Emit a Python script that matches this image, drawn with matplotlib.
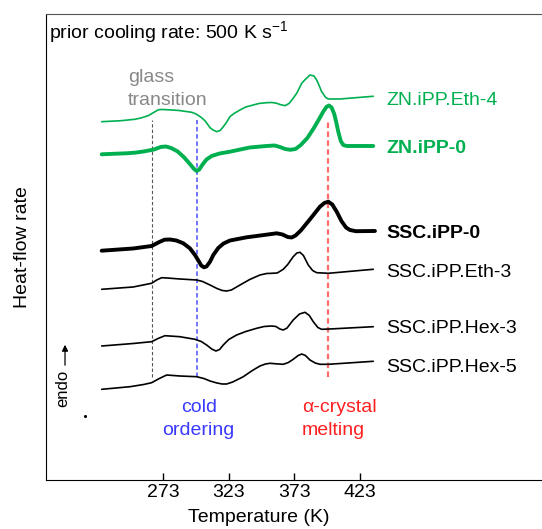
import numpy as np
from matplotlib import pyplot as plt

plt.rcParams['font.family'] = ['Liberation Sans', 'DejaVu Sans']
plt.rcParams['mathtext.fontset'] = 'custom'
plt.rcParams['mathtext.rm'] = 'Liberation Sans'

# heat-flow curves, temperature (K) vs heat-flow rate (arbitrary, shifted)
t_zn_eth4 = [226.0, 240.0, 251.4, 256.0, 261.5, 265.0, 269.2, 272.0, 279.4, 285.0, 294.7, 298.0,
             302.3, 305.0, 308.7, 311.0, 313.8, 316.5, 318.8, 321.0, 323.9, 327.0, 331.6, 336.0,
             341.7, 346.0, 351.9, 356.0, 359.6, 362.0, 365.9, 369.0, 372.2, 375.0, 378.7, 381.0,
             385.0, 388.0, 390.1, 391.5, 393.9, 397.0, 399.0, 401.0, 407.9, 433.3]
hf_zn_eth4 = [358.3, 359.2, 360.7, 362.0, 364.3, 367.0, 370.2, 370.5, 370.0, 369.5, 367.7, 366.0,
              362.3, 359.0, 352.3, 350.0, 348.3, 349.5, 353.3, 357.0, 363.3, 366.5, 370.0, 373.0,
              375.0, 376.5, 377.3, 377.5, 376.7, 375.5, 374.3, 376.5, 381.7, 387.0, 396.7, 400.0,
              405.0, 404.0, 400.0, 396.0, 388.3, 382.5, 381.0, 381.0, 381.0, 383.7]

t_zn_0 = [226.0, 245.0, 251.4, 258.0, 264.1, 266.0, 271.0, 275.0, 279.0, 284.0, 289.0, 293.0,
          296.5, 298.5, 300.5, 303.0, 306.0, 310.0, 316.0, 324.0, 339.0, 352.0, 358.0, 362.0,
          366.0, 370.0, 374.0, 378.0, 383.0, 388.0, 392.0, 395.0, 397.5, 399.5, 401.5, 403.5,
          405.0, 406.6, 408.5, 410.4, 413.0, 433.3]
hf_zn_0 = [325.7, 326.7, 327.3, 328.5, 330.0, 330.5, 333.0, 333.5, 332.0, 328.5, 322.5, 316.5,
           311.0, 309.0, 310.5, 315.5, 320.5, 324.0, 326.5, 328.3, 332.5, 334.0, 334.5, 333.0,
           331.0, 330.2, 331.0, 335.0, 342.0, 352.0, 361.0, 368.0, 373.0, 374.5, 372.5, 366.0,
           358.0, 348.3, 339.0, 335.0, 334.0, 334.0]

t_ssc_0 = [226.0, 250.0, 264.1, 270.0, 274.0, 278.0, 283.0, 288.3, 293.3, 297.2, 300.0, 302.0,
           304.0, 306.0, 308.7, 311.2, 315.0, 319.0, 324.0, 336.7, 350.0, 359.6, 364.0, 368.0,
           371.0, 374.0, 378.0, 382.5, 387.0, 392.6, 396.0, 399.0, 402.0, 405.4, 409.0, 412.5,
           415.5, 420.0, 434.6]
hf_ssc_0 = [229.3, 231.5, 234.0, 238.0, 240.3, 240.5, 239.5, 236.7, 231.7, 225.0, 219.0, 214.5,
            212.7, 213.5, 218.3, 225.0, 232.0, 236.5, 239.5, 242.7, 245.0, 246.7, 245.5, 243.0,
            242.5, 244.5, 249.5, 256.7, 264.0, 273.3, 277.0, 278.3, 275.5, 268.3, 259.0, 252.5,
            250.0, 248.8, 249.0]

t_ssc_eth3 = [226.0, 250.0, 264.1, 268.0, 271.8, 276.0, 285.7, 298.5, 303.0, 308.7, 314.0, 318.0,
              321.4, 325.0, 331.6, 339.0, 346.8, 352.0, 356.0, 360.0, 364.6, 368.0, 372.2, 375.0,
              377.4, 380.0, 383.7, 387.0, 390.1, 399.0, 433.3]
hf_ssc_eth3 = [190.7, 193.0, 196.7, 200.0, 202.3, 202.0, 201.0, 200.0, 198.5, 195.0, 191.5, 189.5,
               189.0, 190.0, 195.0, 200.5, 205.0, 206.5, 206.7, 207.0, 210.7, 215.5, 223.3, 227.0,
               227.7, 224.5, 215.0, 209.5, 207.3, 206.7, 210.7]

t_ssc_hex3 = [226.0, 250.0, 264.1, 269.0, 274.3, 285.7, 297.2, 302.0, 306.1, 310.0, 313.2, 316.0,
              318.8, 323.0, 329.0, 336.0, 344.3, 350.0, 355.8, 359.0, 362.0, 364.6, 367.5, 372.2,
              377.0, 381.2, 384.5, 387.5, 391.0, 393.9, 400.0, 433.3]
hf_ssc_hex3 = [134.0, 136.5, 138.3, 141.5, 144.3, 143.3, 140.7, 138.5, 135.0, 131.0, 129.0, 130.5,
               135.0, 140.5, 145.0, 148.5, 151.7, 153.5, 154.0, 153.5, 151.0, 150.0, 152.0, 160.0,
               166.0, 167.7, 164.5, 158.3, 152.5, 150.7, 151.0, 153.3]

t_ssc_hex5 = [226.0, 247.6, 258.0, 264.1, 270.0, 275.6, 285.7, 298.5, 304.0, 308.7, 314.0, 318.0,
              321.4, 326.0, 334.1, 341.0, 346.8, 351.0, 354.5, 359.0, 364.6, 368.5, 372.2, 376.0,
              378.7, 381.5, 385.0, 389.0, 392.6, 399.0, 433.3]
hf_ssc_hex5 = [90.7, 93.3, 95.5, 97.3, 101.5, 105.0, 104.0, 103.3, 101.5, 99.0, 97.0, 96.0,
               96.0, 98.0, 103.3, 109.5, 114.0, 116.0, 116.7, 116.2, 115.7, 117.5, 120.7, 124.5,
               126.0, 124.5, 120.0, 117.0, 115.7, 115.7, 118.7]

labels = ['ZN.iPP.Eth-4', 'ZN.iPP-0', 'SSC.iPP-0', 'SSC.iPP.Eth-3', 'SSC.iPP.Hex-3', 'SSC.iPP.Hex-5']
label_y = [374.5, 326.5, 242.0, 203.0, 146.5, 108.0]

# transition temperatures (K)
t_glass = 264.6
t_cold = 298.7
t_melt = 399.0

green = '#00b050'
curves = [
    (t_zn_eth4, hf_zn_eth4, green, 1.2, 'normal'),
    (t_zn_0, hf_zn_0, green, 2.8, 'bold'),
    (t_ssc_0, hf_ssc_0, 'black', 2.8, 'bold'),
    (t_ssc_eth3, hf_ssc_eth3, 'black', 1.2, 'normal'),
    (t_ssc_hex3, hf_ssc_hex3, 'black', 1.2, 'normal'),
    (t_ssc_hex5, hf_ssc_hex5, 'black', 1.2, 'normal'),
]

fig = plt.figure(figsize=(5.42, 5.29), dpi=100)
ax = fig.add_axes([0.0849, 0.0926, 0.917, 0.881])

# guide lines for the transitions
ax.plot([t_glass, t_glass], [103, 360], color='#555555', lw=0.8, dashes=(3, 2))
ax.plot([t_cold, t_cold], [103, 360], color='#6a6aff', lw=1.3, dashes=(2.5, 1.5))
ax.plot([t_melt, t_melt], [103, 360], color='#ff6b6b', lw=1.6, dashes=(2.5, 1.5))

for (t, hf, c, lw, fw), lab, ly in zip(curves, labels, label_y):
    ax.plot(t, hf, color=c, lw=lw, solid_joinstyle='round', solid_capstyle='round')
    ax.text(443.5, ly, lab, color=c, fontsize=14, fontweight=fw, va='baseline')

ax.text(246.1, 398.3, 'glass', color='#888888', fontsize=14, va='baseline')
ax.text(246.1, 375.0, 'transition', color='#888888', fontsize=14, va='baseline')
ax.text(300.0, 68.3, 'cold', color='#3a3aff', fontsize=14, ha='center', va='baseline')
ax.text(300.0, 45.0, 'ordering', color='#3a3aff', fontsize=14, ha='center', va='baseline')
ax.text(378.7, 68.3, '\u03b1-crystal', color='#ff2020', fontsize=14, va='baseline')
ax.text(378.7, 45.0, 'melting', color='#ff2020', fontsize=14, va='baseline')

ax.text(0.006, 0.9457, r'prior cooling rate: 500 K s$^{-1}$', transform=ax.transAxes,
        fontsize=14, va='baseline')

# endo arrow
ax.annotate('', xy=(198.0, 138), xytext=(198.0, 112),
            arrowprops=dict(arrowstyle='-|>', color='black', lw=0.9, mutation_scale=9))
ax.text(196.0, 92, 'endo', rotation=90, fontsize=12, ha='center', va='center')
ax.plot([213.2], [64], marker='o', ms=1.2, color='black')

ax.set_xlim(183.5, 562.9)
ax.set_ylim(0, 466)
ax.set_xticks([273, 323, 373, 423])
ax.set_yticks([])
ax.tick_params(axis='x', direction='in', length=5, width=1, labelsize=14, pad=3)
ax.spines['top'].set_color('#555555')
ax.spines['right'].set_visible(False)

ax.set_xlabel('Temperature (K)', fontsize=14)
ax.xaxis.set_label_coords(0.429, -0.062)
ax.set_ylabel('Heat-flow rate', fontsize=14)
ax.yaxis.set_label_coords(-0.030, 0.5)

plt.savefig('out.png', dpi=100)
